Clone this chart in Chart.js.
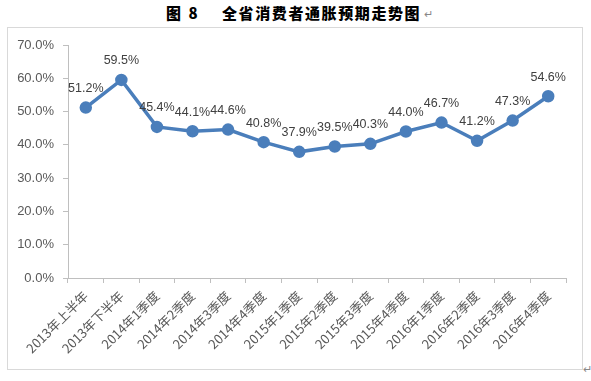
<!DOCTYPE html>
<html>
<head>
<meta charset="utf-8">
<script src="https://cdn.jsdelivr.net/npm/chart.js@4/dist/chart.umd.min.js"></script>
<style>
  html,body{margin:0;padding:0;background:#fff;width:591px;height:381px;overflow:hidden;}
  #title{position:absolute;top:2px;left:0;width:591px;height:22px;font-family:"Noto Sans CJK SC",sans-serif;font-weight:900;font-size:15px;color:#000;}
  #t1{position:absolute;left:166px;top:0;letter-spacing:2px;}
  #t2{position:absolute;left:222px;top:0;letter-spacing:1.6px;}
  #t3{position:absolute;left:424px;top:3px;font-size:11px;font-weight:400;color:#888;}
  #frame{position:absolute;left:7px;top:27px;width:574px;height:341px;border:1px solid #d9d9d9;}
  #ret{position:absolute;left:583px;top:360px;font-size:11px;color:#888;font-family:"Noto Sans CJK SC",sans-serif;}
  canvas{display:block;}
</style>
</head>
<body>
<div id="title"><span id="t1">图 8</span><span id="t2">全省消费者通胀预期走势图</span><span id="t3">↵</span></div>
<div id="frame"><canvas id="c" width="574" height="341"></canvas></div>
<div id="ret">↵</div>
<script>
const categories = ["2013年上半年","2013年下半年","2014年1季度","2014年2季度","2014年3季度","2014年4季度","2015年1季度","2015年2季度","2015年3季度","2015年4季度","2016年1季度","2016年2季度","2016年3季度","2016年4季度"];
const expectation = [51.2, 59.5, 45.4, 44.1, 44.6, 40.8, 37.9, 39.5, 40.3, 44.0, 46.7, 41.2, 47.3, 54.6];
const yTicks = [0, 10, 20, 30, 40, 50, 60, 70];

const labelPlugin = {
  id: 'valueLabels',
  afterDatasetsDraw(chart) {
    const ctx = chart.ctx;
    const meta = chart.getDatasetMeta(0);
    ctx.save();
    ctx.font = '12.5px "Liberation Sans", Arial, sans-serif';
    ctx.fillStyle = '#404040';
    ctx.textAlign = 'center';
    ctx.textBaseline = 'middle';
    meta.data.forEach((pt, i) => {
      ctx.fillText(expectation[i].toFixed(1) + '%', pt.x, pt.y - 19);
    });
    ctx.restore();
  }
};

new Chart(document.getElementById('c'), {
  type: 'line',
  data: {
    labels: categories,
    datasets: [{
      data: expectation,
      borderColor: '#4A7EBB',
      backgroundColor: '#4A7EBB',
      borderWidth: 3.5,
      pointRadius: 4.5,
      pointBackgroundColor: '#4A7EBB',
      pointBorderColor: '#4A7EBB',
      tension: 0,
      clip: false
    }]
  },
  options: {
    responsive: false,
    animation: false,
    devicePixelRatio: 1,
    layout: { padding: { top: 17, right: 16, left: 0, bottom: 0 } },
    plugins: { legend: { display: false }, tooltip: { enabled: false }, title: { display: false } },
    scales: {
      x: {
        offset: true,
        grid: { offset: true, drawOnChartArea: false, drawTicks: true, tickLength: 5, color: '#bfbfbf' },
        border: { color: '#bfbfbf', width: 1 },
        ticks: {
          minRotation: 45, maxRotation: 45, autoSkip: false,
          color: '#595959',
          font: { family: '"Noto Sans CJK SC", sans-serif', size: 13 },
          padding: 5
        },
        afterFit(s) { s.height = 91; }
      },
      y: {
        min: 0, max: 70,
        afterBuildTicks(s) { s.ticks = yTicks.map(v => ({ value: v })); },
        grid: { drawOnChartArea: false, drawTicks: true, tickLength: 5, color: '#bfbfbf' },
        border: { color: '#bfbfbf', width: 1 },
        ticks: {
          color: '#595959',
          font: { family: '"Liberation Sans", Arial, sans-serif', size: 13 },
          padding: 9,
          callback: v => v.toFixed(1) + '%'
        },
        afterFit(s) { s.width = 60; }
      }
    }
  },
  plugins: [labelPlugin]
});
</script>
</body>
</html>
